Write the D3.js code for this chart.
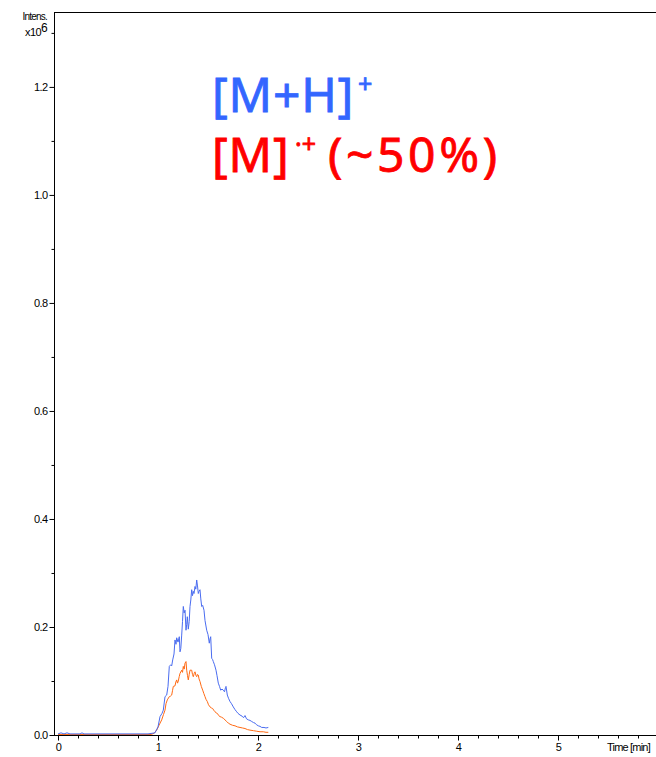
<!DOCTYPE html>
<html>
<head>
<meta charset="utf-8">
<script src="https://cdn.jsdelivr.net/npm/d3@7"></script>
<style>
  html, body { margin: 0; padding: 0; background: #fff; }
  svg { display: block; }
  .tick text { font-family: "Liberation Sans", Arial, sans-serif; font-size: 11px; letter-spacing: -0.6px; fill: #000; }
</style>
</head>
<body>
<svg id="chart" width="656" height="757"></svg>
<script>
// Extracted ion chromatograms: time (min) vs intensity (x10^6)
const protonatedTrace = [
  [0.00, 0.002], [0.03, 0.004], [0.06, 0.002], [0.09, 0.004], [0.12, 0.002],
  [0.22, 0.002], [0.24, 0.004], [0.26, 0.002], [0.50, 0.002], [0.90, 0.002],
  [0.97, 0.004], [1.00, 0.015], [1.02, 0.034], [1.04, 0.040], [1.053, 0.046],
  [1.07, 0.071], [1.087, 0.074], [1.10, 0.090], [1.113, 0.127], [1.127, 0.130],
  [1.137, 0.128], [1.147, 0.139], [1.16, 0.150], [1.17, 0.176], [1.18, 0.168],
  [1.187, 0.180], [1.20, 0.172], [1.213, 0.182], [1.22, 0.154], [1.228, 0.160],
  [1.237, 0.185], [1.245, 0.210], [1.253, 0.238], [1.262, 0.226], [1.27, 0.231],
  [1.28, 0.194], [1.287, 0.205], [1.293, 0.219], [1.303, 0.196], [1.312, 0.210],
  [1.32, 0.238], [1.328, 0.250], [1.337, 0.269], [1.345, 0.258], [1.353, 0.266],
  [1.36, 0.262], [1.37, 0.275], [1.378, 0.270], [1.387, 0.287], [1.395, 0.276],
  [1.403, 0.262], [1.41, 0.266], [1.42, 0.269], [1.428, 0.252], [1.437, 0.238],
  [1.447, 0.240], [1.46, 0.231], [1.47, 0.212], [1.487, 0.194], [1.50, 0.186],
  [1.513, 0.170], [1.52, 0.178], [1.527, 0.182], [1.537, 0.142], [1.545, 0.140],
  [1.553, 0.136], [1.565, 0.130], [1.58, 0.120], [1.59, 0.110], [1.603, 0.096],
  [1.615, 0.090], [1.627, 0.083], [1.64, 0.085], [1.653, 0.083], [1.665, 0.080],
  [1.675, 0.088], [1.68, 0.090], [1.693, 0.074], [1.705, 0.068], [1.72, 0.062],
  [1.735, 0.058], [1.753, 0.052], [1.77, 0.047], [1.787, 0.043], [1.80, 0.040],
  [1.82, 0.037], [1.84, 0.035], [1.855, 0.032], [1.87, 0.036], [1.885, 0.030],
  [1.903, 0.028], [1.92, 0.027], [1.937, 0.025], [1.955, 0.023], [1.97, 0.022],
  [1.985, 0.019], [2.003, 0.017], [2.02, 0.016], [2.037, 0.014], [2.06, 0.014],
  [2.08, 0.013], [2.103, 0.014]
];

const radicalTrace = [
  [0.00, 0.001], [0.50, 0.001], [0.93, 0.001], [0.96, 0.003], [0.99, 0.010],
  [1.01, 0.018], [1.037, 0.028], [1.055, 0.038], [1.07, 0.046], [1.08, 0.058],
  [1.093, 0.065], [1.113, 0.071], [1.125, 0.072], [1.137, 0.074], [1.145, 0.082],
  [1.153, 0.090], [1.17, 0.091], [1.178, 0.098], [1.187, 0.102], [1.195, 0.096],
  [1.203, 0.100], [1.212, 0.108], [1.22, 0.114], [1.237, 0.120], [1.245, 0.116],
  [1.253, 0.127], [1.262, 0.122], [1.27, 0.133], [1.28, 0.136], [1.287, 0.120],
  [1.295, 0.110], [1.303, 0.102], [1.312, 0.112], [1.32, 0.120], [1.337, 0.120],
  [1.345, 0.112], [1.353, 0.108], [1.362, 0.114], [1.37, 0.117], [1.38, 0.110],
  [1.387, 0.108], [1.395, 0.112], [1.403, 0.111], [1.41, 0.104], [1.42, 0.099],
  [1.433, 0.090], [1.447, 0.083], [1.458, 0.077], [1.47, 0.071], [1.48, 0.066],
  [1.493, 0.062], [1.505, 0.056], [1.52, 0.052], [1.535, 0.050], [1.547, 0.049],
  [1.557, 0.046], [1.57, 0.043], [1.582, 0.041], [1.593, 0.040], [1.607, 0.036],
  [1.62, 0.034], [1.635, 0.033], [1.653, 0.031], [1.67, 0.028], [1.687, 0.025],
  [1.703, 0.022], [1.72, 0.020], [1.745, 0.018], [1.77, 0.017], [1.795, 0.015],
  [1.82, 0.014], [1.845, 0.013], [1.87, 0.012], [1.895, 0.010], [1.92, 0.009],
  [1.955, 0.008], [1.987, 0.007], [2.02, 0.006], [2.053, 0.006], [2.08, 0.005],
  [2.103, 0.005]
];

const xMajorTicks = [0, 1, 2, 3, 4, 5];
const yMajorTicks = [0.0, 0.2, 0.4, 0.6, 0.8, 1.0, 1.2];

const svg = d3.select("#chart");
const W = 656;
const plotLeft = 54, plotTop = 12, plotBottom = 735;

const x = d3.scaleLinear().domain([-0.04, 5.98]).range([plotLeft, W]);
const y = d3.scaleLinear().domain([0, 1.3387]).range([plotBottom, plotTop]);

// frame top edge
svg.append("line")
  .attr("x1", plotLeft).attr("x2", W).attr("y1", plotTop + 0.5).attr("y2", plotTop + 0.5)
  .attr("stroke", "#000").attr("stroke-width", 1);

// y axis: majors labelled, minors halfway
const yMinor = d3.range(0.1, 1.31, 0.2);
const yAxis = d3.axisLeft(y).tickValues(yMajorTicks).tickFormat(d3.format(".1f")).tickSize(5).tickPadding(2);
const yAxisMinor = d3.axisLeft(y).tickValues(yMinor).tickFormat("").tickSize(3);
svg.append("g").attr("transform", `translate(${plotLeft + 0.5},0)`).call(yAxisMinor)
  .call(g => g.select(".domain").remove());
svg.append("g").attr("transform", `translate(${plotLeft + 0.5},0)`).call(yAxis)
  .call(g => g.select(".domain").attr("d", `M0,${plotTop}V${plotBottom}`));

// x axis: majors labelled, minors every 0.2 min
const xMinor = d3.range(0, 5.9, 0.2).filter(v => Math.abs(v - Math.round(v)) > 0.01);
const xAxis = d3.axisBottom(x).tickValues(xMajorTicks).tickFormat(d3.format("d")).tickSize(5).tickPadding(3);
const xAxisMinor = d3.axisBottom(x).tickValues(xMinor).tickFormat("").tickSize(3);
svg.append("g").attr("transform", `translate(0,${plotBottom + 0.5})`).call(xAxisMinor)
  .call(g => g.select(".domain").remove());
svg.append("g").attr("transform", `translate(0,${plotBottom + 0.5})`).call(xAxis)
  .call(g => g.select(".domain").attr("d", `M${plotLeft},0H${W}`));

// axis titles
const labelFont = "'Liberation Sans', Arial, sans-serif";
svg.append("text").attr("x", 47).attr("y", 20).attr("text-anchor", "end")
  .attr("font-family", labelFont).attr("font-size", 10).attr("letter-spacing", "-0.8")
  .text("Intens.");
const xt = svg.append("text").attr("x", 47).attr("y", 36).attr("text-anchor", "end")
  .attr("font-family", labelFont).attr("font-size", 11).attr("letter-spacing", "-0.6");
xt.append("tspan").text("x10");
xt.append("tspan").attr("dy", -4).attr("font-size", 12).text("6");
svg.append("text").attr("x", 607).attr("y", 751)
  .attr("font-family", labelFont).attr("font-size", 11).attr("letter-spacing", "-0.8")
  .text("Time [min]");

// chromatogram traces
const line = d3.line().x(d => x(d[0])).y(d => y(d[1]));
svg.append("path").datum(radicalTrace).attr("d", line)
  .attr("fill", "none").attr("stroke", "#ff6a13").attr("stroke-width", 1);
svg.append("path").datum(protonatedTrace).attr("d", line)
  .attr("fill", "none").attr("stroke", "#4a6cf0").attr("stroke-width", 1);

// ion annotations (a thin outline gives the glyphs a medium weight)
const annFont = "'Noto Sans', 'Open Sans', sans-serif";
const blue = "#3366ff", red = "#ff0000";
const a1 = svg.append("g").attr("font-family", annFont).attr("fill", blue)
  .attr("stroke", blue).attr("stroke-width", 0.8);
a1.append("text").attr("x", 212).attr("y", 112).attr("font-size", 48).attr("letter-spacing", "0.8").text("[M+H]");
a1.append("text").attr("x", 358).attr("y", 93).attr("font-size", 25).text("+");

const a2 = svg.append("g").attr("font-family", annFont).attr("fill", red)
  .attr("stroke", red).attr("stroke-width", 0.8);
a2.append("text").attr("x", 212).attr("y", 172).attr("font-size", 48).attr("letter-spacing", "0.8").text("[M]");
a2.append("text").attr("x", 295).attr("y", 153).attr("font-size", 25).text("·+");
a2.append("text").attr("x", 328).attr("y", 172).attr("font-size", 48).attr("letter-spacing", "3.6").text("(~50%)");
</script>
</body>
</html>
